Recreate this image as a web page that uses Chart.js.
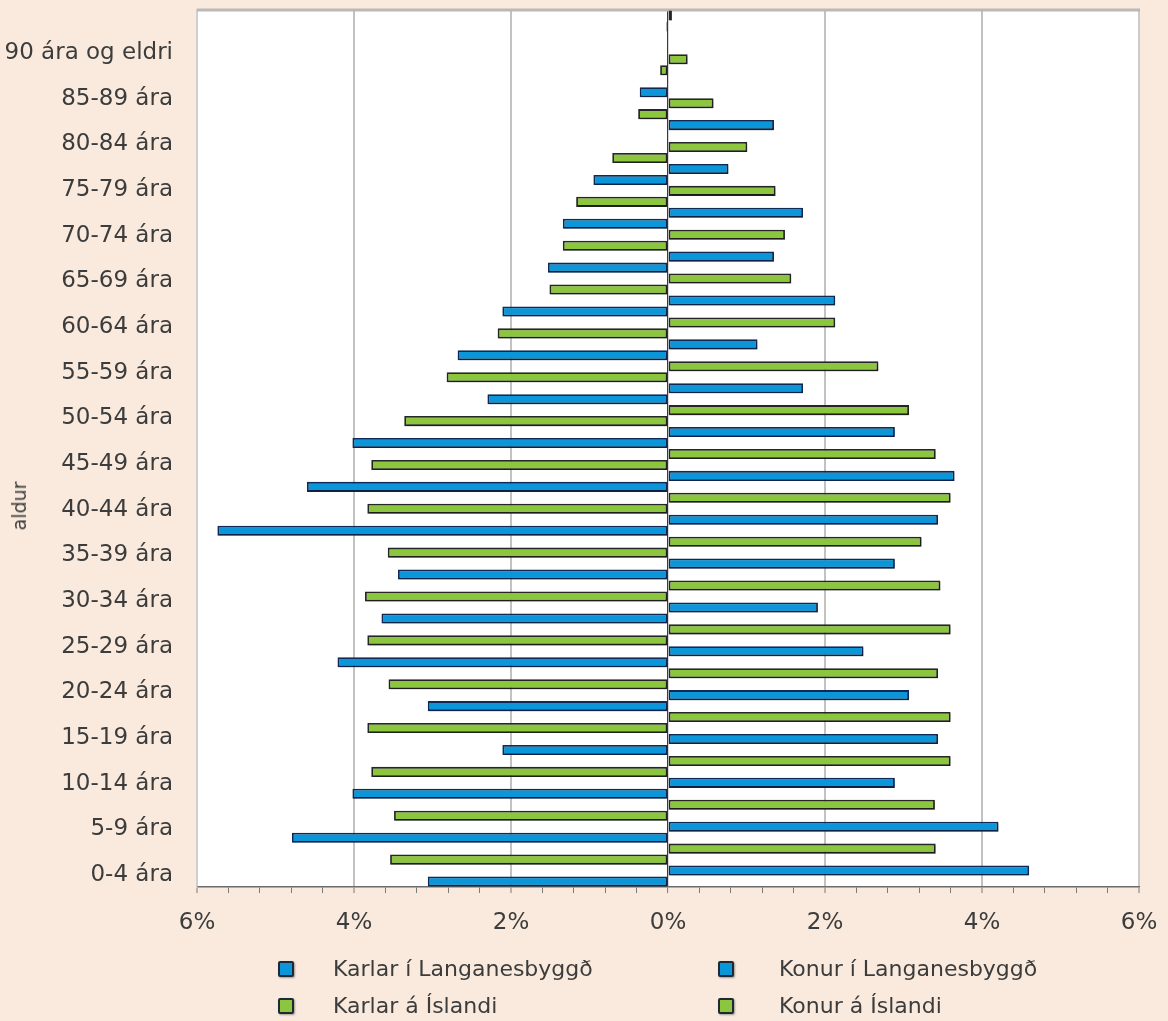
<!DOCTYPE html>
<html lang="is">
<head>
<meta charset="utf-8">
<title>Aldursdreifing – Langanesbyggð og Ísland</title>
<script src="https://cdn.jsdelivr.net/npm/chart.js@4.4.1/dist/chart.umd.min.js"></script>
<style>
    html, body { margin: 0; padding: 0; background: #f9eadd; }
    #wrap { position: relative; width: 1168px; height: 1021px; font-family: 'DejaVu Sans', sans-serif; color: #3c3c3c; }
    #wrap canvas { position: absolute; left: 0; top: 0; }
    #ytitle { position: absolute; left: 19px; top: 506px; transform: translate(-50%, -50%) rotate(-90deg); font-size: 19px; white-space: nowrap; }
    .lg-box { position: absolute; width: 12px; height: 12px; border: 2px solid #1f2a36; border-radius: 2px; box-shadow: 1px 1px 2px rgba(0,0,0,0.35); }
    .lg-text { position: absolute; font-size: 22px; line-height: 28px; white-space: nowrap; }
</style>
</head>
<body>
<div id="wrap">
    <canvas id="pyramid" width="1168" height="1021"></canvas>
    <div id="ytitle">aldur</div>
    <div id="legend"></div>
</div>
<script>
// aldurshópar á ás (19 merkimiðar)
const ageLabels = ['0-4 ára', '5-9 ára', '10-14 ára', '15-19 ára', '20-24 ára', '25-29 ára', '30-34 ára',
    '35-39 ára', '40-44 ára', '45-49 ára', '50-54 ára', '55-59 ára', '60-64 ára', '65-69 ára',
    '70-74 ára', '75-79 ára', '80-84 ára', '85-89 ára', '90 ára og eldri'];

// hlutfall af íbúum (%), 20 hópar neðan frá; efsti hópurinn er örsmár
const karlarLanganes = [3.06, 4.79, 4.02, 2.11, 3.06, 4.21, 3.65, 3.44, 5.74, 4.60,
    4.02, 2.30, 2.68, 2.11, 1.53, 1.34, 0.95, 0, 0.36, 0];
const konurLanganes = [4.60, 4.21, 2.89, 3.44, 3.07, 2.49, 1.91, 2.89, 3.44, 3.65,
    2.89, 1.72, 1.14, 2.13, 1.35, 1.72, 0.77, 1.35, 0, 0];
const karlarIsland = [3.54, 3.49, 3.78, 3.83, 3.56, 3.83, 3.86, 3.57, 3.83, 3.78,
    3.36, 2.82, 2.17, 1.51, 1.34, 1.17, 0.71, 0.38, 0.10, 0.02];
const konurIsland = [3.41, 3.40, 3.60, 3.60, 3.44, 3.60, 3.47, 3.23, 3.60, 3.41,
    3.07, 2.68, 2.13, 1.57, 1.49, 1.37, 1.01, 0.58, 0.25, 0.05];

// x-ás
const xMax = 6;
const xMajor = 2;
const xMinor = 0.4;

const BLUE = '#0a96d8';
const GREEN = '#8cc63f';
const FONT = "'DejaVu Sans', sans-serif";
const TEXT = '#3c3c3c';

// each age group gets two rows: Langanesbyggð then Ísland
const rowKeys = [];
karlarLanganes.forEach((_, g) => rowKeys.push(g + '-L', g + '-I'));

function toRows(values, slot, sign) {
    const out = [];
    values.forEach(v => {
        const pair = [null, null];
        pair[slot] = sign * v;
        out.push(pair[0], pair[1]);
    });
    return out;
}

const isMajor = v => Math.abs(v / xMajor - Math.round(v / xMajor)) < 1e-6;

const plotFrame = {
    id: 'plotFrame',
    beforeDraw(chart) {
        const {ctx, chartArea: a} = chart;
        ctx.save();
        ctx.fillStyle = '#ffffff';
        ctx.fillRect(a.left, a.top, a.right - a.left, a.bottom - a.top);
        ctx.restore();
    },
    beforeDatasetsDraw(chart) {
        const {ctx, chartArea: a} = chart;
        ctx.save();
        ctx.strokeStyle = '#b9b9b9';
        ctx.lineWidth = 3;
        ctx.beginPath();
        ctx.moveTo(a.left, a.top);
        ctx.lineTo(a.right + 1, a.top);
        ctx.stroke();
        ctx.restore();
        // soft shadow under bars
        ctx.save();
        ctx.shadowColor = 'rgba(0,0,0,0.3)';
        ctx.shadowOffsetX = 1;
        ctx.shadowOffsetY = 1.5;
        ctx.shadowBlur = 2;
    },
    afterDatasetsDraw(chart) {
        chart.ctx.restore();
    }
};

const chart = new Chart(document.getElementById('pyramid'), {
    type: 'bar',
    data: {
        labels: rowKeys,
        datasets: [
            { label: 'Konur í Langanesbyggð', data: toRows(konurLanganes, 0, 1), stack: 'konur',
              backgroundColor: BLUE, borderColor: '#102a55' },
            { label: 'Karlar í Langanesbyggð', data: toRows(karlarLanganes, 0, -1), stack: 'karlar',
              backgroundColor: BLUE, borderColor: '#102a55' },
            { label: 'Konur á Íslandi', data: toRows(konurIsland, 1, 1), stack: 'konur',
              backgroundColor: GREEN, borderColor: '#262626' },
            { label: 'Karlar á Íslandi', data: toRows(karlarIsland, 1, -1), stack: 'karlar',
              backgroundColor: GREEN, borderColor: '#262626' }
        ]
    },
    options: {
        indexAxis: 'y',
        responsive: false,
        animation: false,
        layout: { padding: { top: 10, right: 29, bottom: 76, left: 0 } },
        plugins: { legend: { display: false }, tooltip: { enabled: false } },
        datasets: {
            bar: { barPercentage: 0.92, categoryPercentage: 1, borderWidth: 1.8, borderSkipped: false }
        },
        scales: {
            x: {
                type: 'linear',
                min: -xMax,
                max: xMax,
                stacked: true,
                ticks: {
                    stepSize: xMinor,
                    autoSkip: false,
                    maxRotation: 0,
                    padding: 16,
                    color: TEXT,
                    font: { family: FONT, size: 23 },
                    callback: v => isMajor(v) ? Math.abs(Math.round(v)) + '%' : ''
                },
                grid: {
                    color: c => {
                        const v = c.tick.value;
                        if (Math.abs(v) < 1e-6) return '#3a3a3a';
                        if (Math.abs(Math.abs(v) - xMax) < 1e-6) return '#cbcbcb';
                        return isMajor(v) ? '#c2c2c2' : 'rgba(0,0,0,0)';
                    },
                    lineWidth: c => {
                        const v = c.tick.value;
                        if (Math.abs(v) < 1e-6) return 1.2;
                        return isMajor(v) ? 2 : 1;
                    },
                    tickColor: '#7a7a7a',
                    tickWidth: 1,
                    tickLength: 6
                },
                border: { color: '#6b6b6b', width: 1.5 },
                afterFit: s => {
                    s.height = 58;
                    s.paddingLeft = 0;
                    s.paddingRight = 0;
                }
            },
            y: {
                type: 'category',
                reverse: true,
                display: false,
                offset: true
            },
            yAge: {
                type: 'linear',
                position: 'left',
                offset: false,
                min: -0.263,
                max: 18.94,
                grid: { display: false, drawTicks: false },
                border: { color: '#d0d0d0', width: 1.5 },
                ticks: {
                    autoSkip: false,
                    padding: 24,
                    color: TEXT,
                    font: { family: FONT, size: 23 },
                    callback: v => ageLabels[v] !== undefined ? ageLabels[v] : ''
                },
                afterBuildTicks: s => { s.ticks = ageLabels.map((_, i) => ({ value: i })); },
                afterFit: s => {
                    s.width = 197;
                    s.paddingTop = 0;
                    s.paddingBottom = 0;
                }
            }
        }
    },
    plugins: [plotFrame]
});

// legend in two columns, like the original
const legendOrder = [
    ['Karlar í Langanesbyggð', 'Konur í Langanesbyggð'],
    ['Karlar á Íslandi', 'Konur á Íslandi']
];
const colBox = [278, 718];
const colText = [333, 779];
const rowY = [969, 1006];
const legendEl = document.getElementById('legend');
legendOrder.forEach((row, r) => {
    row.forEach((name, c) => {
        const ds = chart.data.datasets.find(d => d.label === name);
        const box = document.createElement('div');
        box.className = 'lg-box';
        box.style.left = colBox[c] + 'px';
        box.style.top = (rowY[r] - 8) + 'px';
        box.style.background = ds.backgroundColor;
        legendEl.appendChild(box);
        const txt = document.createElement('div');
        txt.className = 'lg-text';
        txt.style.left = colText[c] + 'px';
        txt.style.top = (rowY[r] - 14) + 'px';
        txt.textContent = name;
        legendEl.appendChild(txt);
    });
});
</script>
</body>
</html>
